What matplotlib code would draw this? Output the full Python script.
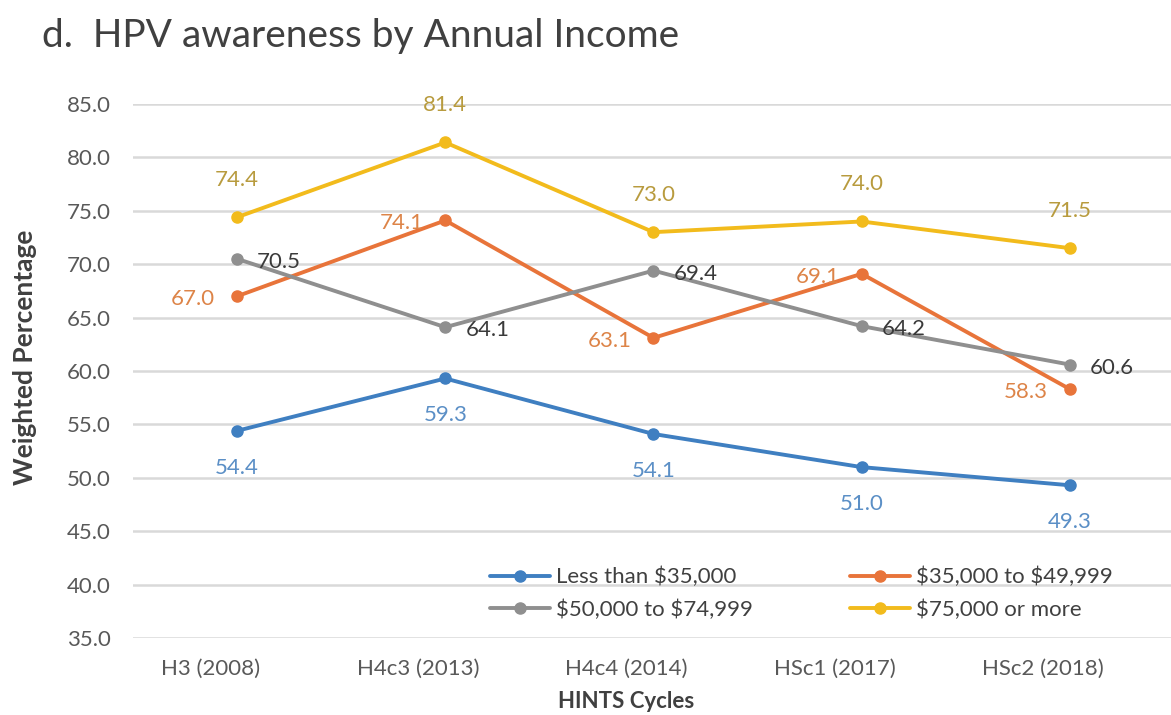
import matplotlib
matplotlib.use("Agg")
import matplotlib.pyplot as plt
import matplotlib.transforms as mtransforms
from matplotlib.ticker import FormatStrFormatter

plt.rcParams["font.family"] = ["Lato", "DejaVu Sans"]
plt.rcParams["text.parse_math"] = False

# HINTS survey cycles and weighted awareness percentages by income group
cycles = ["H3 (2008)", "H4c3 (2013)", "H4c4 (2014)", "HSc1 (2017)", "HSc2 (2018)"]
less_35k = [54.4, 59.3, 54.1, 51.0, 49.3]
from_35k_to_50k = [67.0, 74.1, 63.1, 69.1, 58.3]
from_50k_to_75k = [70.5, 64.1, 69.4, 64.2, 60.6]
over_75k = [74.4, 81.4, 73.0, 74.0, 71.5]
series_names = ["Less than $35,000", "$35,000 to $49,999",
                "$50,000 to $74,999", "$75,000 or more"]
y_ticks = [35, 40, 45, 50, 55, 60, 65, 70, 75, 80, 85]

W, H = 1171, 715
fig = plt.figure(figsize=(W / 100, H / 100), dpi=100)
fig.patch.set_facecolor("white")

left, right, bottom, top = 133, 1174, 638, 104
ax = fig.add_axes([left / W, 1 - bottom / H, (right - left) / W, (bottom - top) / H])

x = list(range(len(cycles)))

# line colour, label colour, label placement (ha, va, dx px, dy px)
styles = [
    (less_35k, series_names[0], "#3f7fc1", "#5b8fc6", ("center", "center", 0, -37)),
    (from_35k_to_50k, series_names[1], "#e8743a", "#dd8448", ("right", "center", -22, -3)),
    (from_50k_to_75k, series_names[2], "#8f8f8f", "#3a3a3a", ("left", "center", 20, -3)),
    (over_75k, series_names[3], "#f2bb1c", "#b89b3e", ("center", "center", 0, 37)),
]

handles = {}
for vals, name, col, lab_col, (ha, va, dx, dy) in styles:
    ln, = ax.plot(x, vals, color=col, lw=2.8, marker="o", ms=8,
                  markerfacecolor=col, markeredgecolor=col, label=name,
                  zorder=3, solid_capstyle="round")
    handles[name] = ln
    for xi, v in zip(x, vals):
        ax.annotate(f"{v:.1f}", (xi, v), xytext=(dx, dy),
                    textcoords="offset pixels", ha=ha, va=va,
                    fontsize=16, color=lab_col, zorder=4)

ax.set_xlim(-0.5, len(cycles) - 0.5)
ax.set_ylim(35, 85)
ax.set_yticks(y_ticks)
ax.yaxis.set_major_formatter(FormatStrFormatter("%.1f"))
ax.set_xticks(x)
ax.set_xticklabels(cycles)
ax.grid(axis="y", color="#d9d9d9", lw=1.8, zorder=0)
ax.set_axisbelow(True)
for s in ax.spines.values():
    s.set_visible(False)
ax.tick_params(axis="both", length=0, labelsize=16, labelcolor="#595959")
ax.tick_params(axis="y", pad=16)
ax.tick_params(axis="x", pad=15)

# category labels sit a little left of their points
shift = mtransforms.ScaledTranslation(-27 / 100, 0, fig.dpi_scale_trans)
for lbl in ax.get_xticklabels():
    lbl.set_transform(lbl.get_transform() + shift)

fig.text(42 / W, 1 - 36 / H, "d.  HPV awareness by Annual Income",
         ha="left", va="center", fontsize=28, color="#404040")
fig.text(25 / W, 1 - 357 / H, "Weighted Percentage", rotation=90,
         ha="center", va="center", fontsize=19, fontweight="bold", color="#404040")
fig.text(626 / W, 1 - 701 / H, "HINTS Cycles",
         ha="center", va="center", fontsize=16, fontweight="bold", color="#404040")

order = [series_names[0], series_names[2], series_names[1], series_names[3]]
fig.legend([handles[n] for n in order], order, ncol=2, frameon=False,
           loc="upper left", bbox_to_anchor=(490 / W, 1 - 567 / H),
           borderaxespad=0, borderpad=0, handlelength=2.7,
           handletextpad=0.25, columnspacing=4.4, labelspacing=0.55,
           fontsize=16, labelcolor="#404040")

fig.savefig("out.png", dpi=100, facecolor="white")
